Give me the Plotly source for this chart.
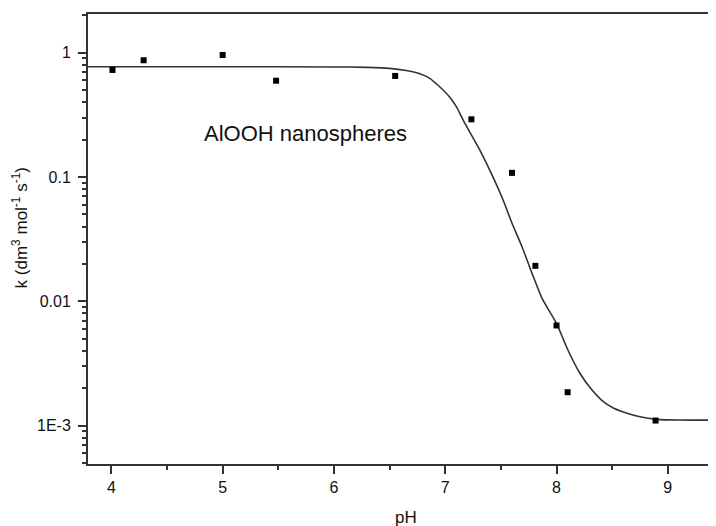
import math
import plotly.graph_objects as go

# Measured data points
ph_points = [4.01, 4.29, 5.00, 5.48, 6.55, 7.235, 7.60, 7.81, 8.00, 8.10, 8.89]
k_points = [0.726, 0.869, 0.958, 0.595, 0.65, 0.291, 0.108, 0.0193, 0.0064, 0.00186, 0.0011]

# Fitted curve
ph_curve = [3.79, 5.0, 6.0, 6.30, 6.50, 6.65, 6.75, 6.86, 6.95, 7.03, 7.10, 7.16, 7.23, 7.31,
            7.42, 7.52, 7.60, 7.69, 7.78, 7.87, 8.00, 8.10, 8.21, 8.31, 8.42, 8.51, 8.60,
            8.75, 8.90, 9.10, 9.433]
k_curve = [0.771, 0.771, 0.768, 0.762, 0.748, 0.718, 0.685, 0.622, 0.532, 0.45, 0.368,
           0.288, 0.222, 0.165, 0.104, 0.0653, 0.0425, 0.0275, 0.0168, 0.01057, 0.00665,
           0.0041, 0.00264, 0.00198, 0.00156, 0.00139, 0.00129, 0.00118, 0.001125,
           0.00111, 0.00111]

y_tickvals = [0.001, 0.01, 0.1, 1]
y_ticktext = ["1E-3", "0.01", "0.1", "1"]
x_tickvals = [4, 5, 6, 7, 8, 9]

minor_y = [m * 10.0 ** e for e in (-4, -3, -2, -1, 0) for m in range(2, 10)]

fig = go.Figure()
fig.add_trace(go.Scatter(
    x=ph_curve, y=k_curve, mode="lines",
    line=dict(color="#333333", width=1.6, shape="spline", smoothing=0.6),
    showlegend=False, hoverinfo="skip"))
fig.add_trace(go.Scatter(
    x=ph_points, y=k_points, mode="markers",
    marker=dict(symbol="square", size=6, color="black"), showlegend=False))

font_main = "Liberation Sans, Arial, sans-serif"

# page body has an 8px margin, so the figure is sized/offset to compensate
fig.update_layout(
    width=708, height=518,
    margin=dict(l=80, r=0, t=6, b=62),
    paper_bgcolor="white", plot_bgcolor="white",
    font=dict(family=font_main, color="#111111", size=16),
    xaxis=dict(
        range=[3.79, 9.433], tickvals=x_tickvals, ticks="outside", ticklen=8, tickwidth=2,
        tickcolor="#333333", showline=True, linewidth=2, linecolor="#333333", mirror=True,
        showgrid=False, zeroline=False, tickfont=dict(size=16), automargin=False,
        minor=dict(tickvals=[4.5, 5.5, 6.5, 7.5, 8.5], ticks="outside", ticklen=4, tickwidth=2,
                   tickcolor="#333333", showgrid=False),
    ),
    yaxis=dict(
        type="log", range=[-3.308, 0.311], tickvals=y_tickvals, ticktext=y_ticktext,
        ticks="outside", ticklen=8, tickwidth=2, tickcolor="#333333",
        showline=True, linewidth=2, linecolor="#333333", automargin=False,
        showgrid=False, zeroline=False, tickfont=dict(size=16), ticklabelstandoff=4,
        minor=dict(tickvals=minor_y, ticks="outside", ticklen=4, tickwidth=2,
                   tickcolor="#333333", showgrid=False),
    ),
    annotations=[
        dict(x=4.81, y=math.log10(0.222), xref="x", yref="y", text="AlOOH nanospheres",
             showarrow=False, xanchor="left", yanchor="middle",
             font=dict(size=22, color="#111111")),
        dict(x=0.506, y=-0.118, xref="paper", yref="paper", text="pH", showarrow=False,
             xanchor="center", yanchor="middle", font=dict(size=17)),
        dict(x=-0.108, y=0.524, xref="paper", yref="paper", textangle=-90,
             text="k (dm<sup>3</sup> mol<sup>-1</sup> s<sup>-1</sup>)", showarrow=False,
             xanchor="center", yanchor="middle", font=dict(size=17)),
    ],
)

fig.write_html("out.html")
